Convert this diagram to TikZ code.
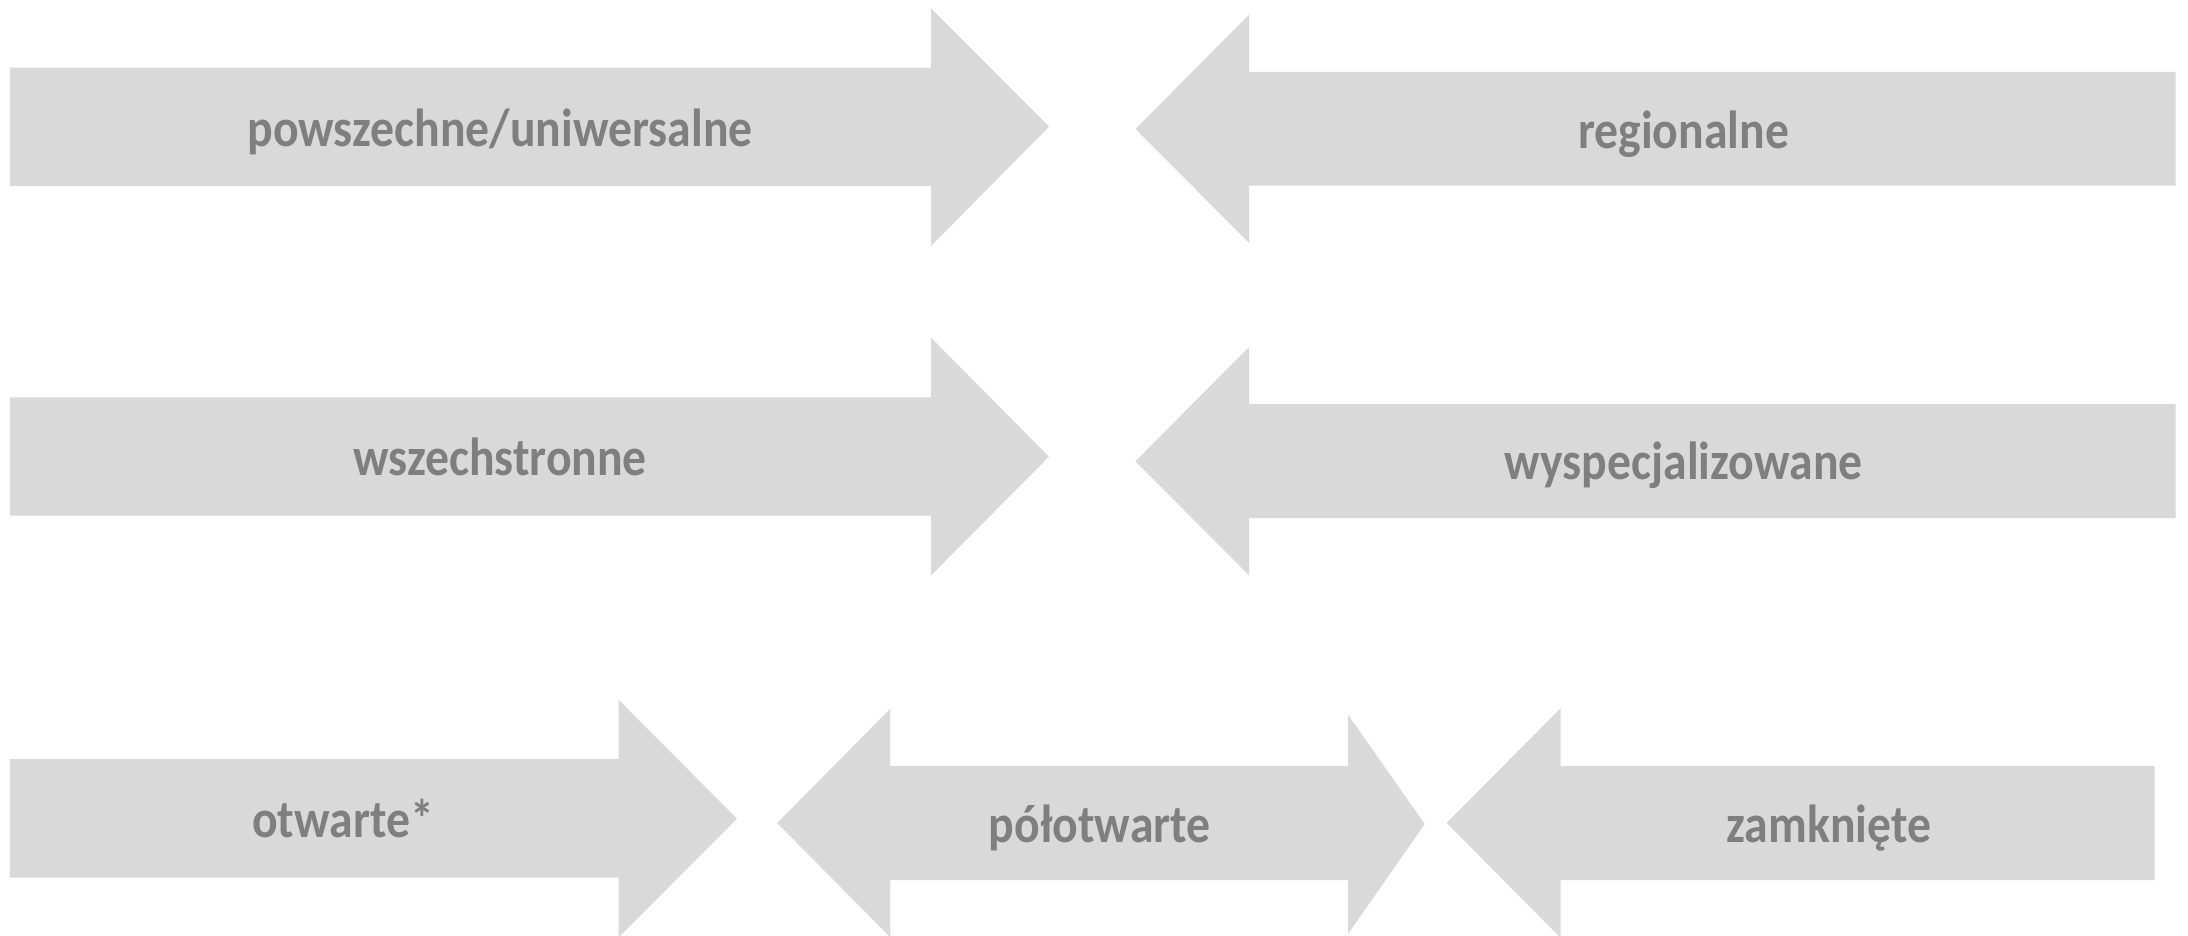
\documentclass[tikz,border=0pt]{standalone}
\usepackage{fontspec}
\setmainfont{Carlito}
\usepackage{tikz}
\usetikzlibrary{positioning}
\definecolor{arrfill}{HTML}{D9D9D9}
\definecolor{txtgray}{HTML}{7F7F7F}

\begin{document}
\begin{tikzpicture}[x=0.5pt,y=-0.5pt,
  arr/.style={fill=arrfill},
  lbl/.style={anchor=base,text=txtgray,inner sep=0pt,xscale=0.89,transform shape,
              font=\fontsize{26.8}{32}\selectfont\bfseries}]
  \useasboundingbox (0,0) rectangle (2188,936);
  \clip (0,0) rectangle (2188,936);

  % row 1
  \fill[arr] (9.8,67.7) -- (931,67.7) -- (931,8.3) -- (1049,126.7) -- (931,246) -- (931,186) -- (9.8,186) -- cycle;
  \fill[arr] (2175.5,72) -- (1249,72) -- (1249,14.7) -- (1135.5,129) -- (1249,243) -- (1249,185.7) -- (2175.5,185.7) -- cycle;
  \node[lbl] (powsz) at (500,147)    {powszechne/uniwersalne};
  \node[lbl] (region) at (1683.6,149) {regionalne};

  % row 2
  \fill[arr] (9.8,397.3) -- (931,397.3) -- (931,337.7) -- (1049,456.7) -- (931,575.3) -- (931,515.7) -- (9.8,515.7) -- cycle;
  \fill[arr] (2175.5,404) -- (1249,404) -- (1249,347) -- (1135.5,461.3) -- (1249,575.3) -- (1249,518) -- (2175.5,518) -- cycle;
  \node[lbl] (wszech) at (500,475.5)  {wszechstronne};
  \node[lbl] (wyspec) at (1683.6,479) {wyspecjalizowane};

  % row 3
  \fill[arr] (9.8,759) -- (618.5,759) -- (618.5,699.7) -- (737,818.7) -- (618.5,937.7) -- (618.5,877.7) -- (9.8,877.7) -- cycle;
  \fill[arr] (777.2,823) -- (890.3,708.7) -- (890.3,766) -- (1348,766) -- (1348,714.7) -- (1424.7,824) -- (1348,934) -- (1348,880) -- (890.3,880) -- (890.3,937.3) -- cycle;
  \fill[arr] (2154.5,766) -- (1560.5,766) -- (1560.5,708.3) -- (1446.7,823) -- (1560.5,937.7) -- (1560.5,880) -- (2154.5,880) -- cycle;
  \node[lbl] (otw) at (343,837.5)     {otwarte*};
  \node[lbl] (polotw) at (1099.6,842) {półotwarte};
  \node[lbl] (zamk) at (1828.7,842)   {zamknięte};
\end{tikzpicture}
\end{document}
